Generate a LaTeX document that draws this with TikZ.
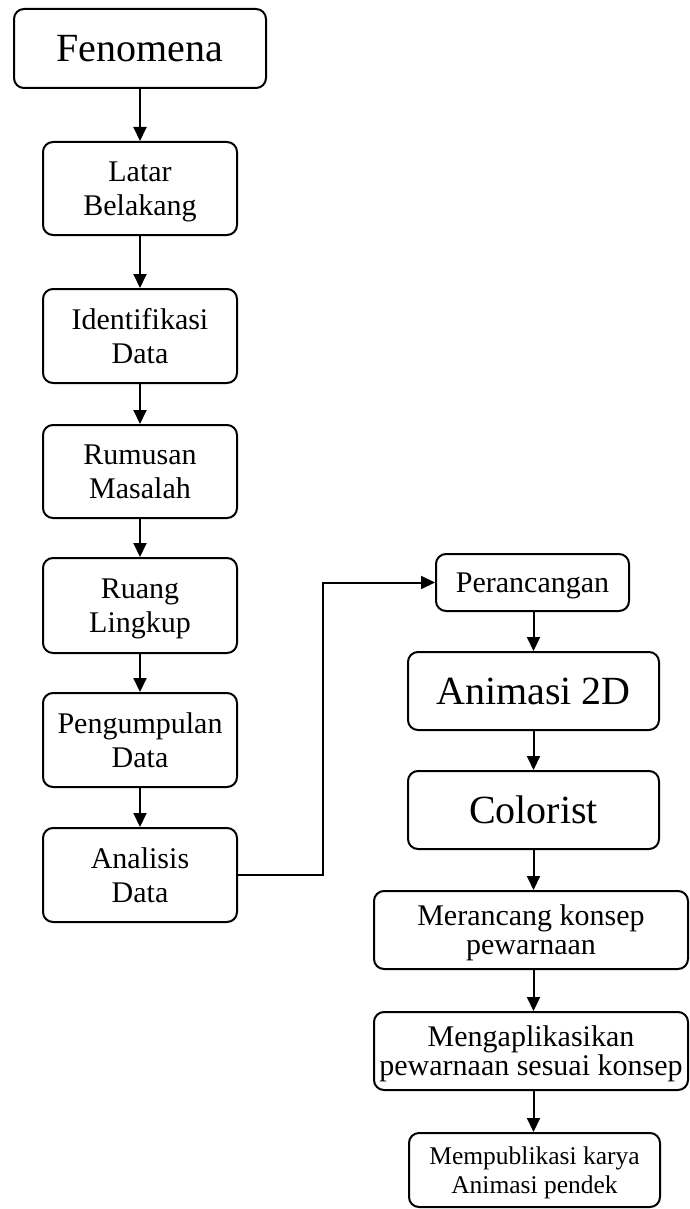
\documentclass[tikz,border=0pt]{standalone}
\usepackage{fontspec}
\setmainfont{Liberation Serif}
\usetikzlibrary{arrows.meta}
\tikzset{
  box/.style={draw, line width=2pt, rounded corners=10pt, inner sep=0pt, align=center, anchor=center, text depth=0pt},
  arr/.style={line width=2pt, -{Triangle[width=13pt,length=14pt]}},
  fbig/.style={font=\fontsize{40}{46}\selectfont},
  fmid/.style={font=\fontsize{30}{34.5}\selectfont},
  ftight/.style={font=\fontsize{30}{29}\selectfont},
  fsmall/.style={font=\fontsize{25.5}{29}\selectfont}
}
\begin{document}
\begin{tikzpicture}[x=1pt,y=-1pt]
\useasboundingbox (0,0) rectangle (689,1209);
% left column
\node[box,fbig,minimum width=252pt,minimum height=79pt] (fen) at (140,48.5) {Fenomena};
\node[box,fmid,minimum width=194pt,minimum height=93pt] (lat) at (140,188.5) {Latar\\Belakang};
\node[box,fmid,minimum width=194pt,minimum height=94pt] (ide) at (140,336) {Identifikasi\\Data};
\node[box,fmid,minimum width=194pt,minimum height=93pt] (rum) at (140,471.5) {Rumusan\\Masalah};
\node[box,fmid,minimum width=194pt,minimum height=95pt] (rua) at (140,605.5) {Ruang\\Lingkup};
\node[box,fmid,minimum width=194pt,minimum height=94pt] (pen) at (140,740) {Pengumpulan\\Data};
\node[box,fmid,minimum width=194pt,minimum height=94pt] (ana) at (140,875) {Analisis\\Data};
% right column
\node[box,fmid,minimum width=193pt,minimum height=57pt] (per) at (532.5,582.5) {Perancangan};
\node[box,fbig,minimum width=251pt,minimum height=78pt] (ani) at (533.5,691) {Animasi 2D};
\node[box,fbig,minimum width=251pt,minimum height=78pt] (col) at (533.5,810) {Colorist};
\node[box,ftight,minimum width=314pt,minimum height=78pt] (mer) at (531,930) {Merancang konsep\\pewarnaan};
\node[box,ftight,minimum width=314pt,minimum height=78pt] (men) at (531,1051) {Mengaplikasikan\\pewarnaan sesuai konsep};
\node[box,fsmall,minimum width=251pt,minimum height=74pt] (mem) at (534.5,1170) {Mempublikasi karya\\Animasi pendek};
% connectors
\draw[arr] (fen) -- (lat);
\draw[arr] (lat) -- (ide);
\draw[arr] (ide) -- (rum);
\draw[arr] (rum) -- (rua);
\draw[arr] (rua) -- (pen);
\draw[arr] (pen) -- (ana);
\draw[arr] (ana.east) -- ++(85,0) |- (per.west);
\draw[arr] (per.south -| ani) -- (ani.north);
\draw[arr] (ani) -- (col);
\draw[arr] (col.south) -- (col.south |- mer.north);
\draw[arr] (col.south |- mer.south) -- (col.south |- men.north);
\draw[arr] (col.south |- men.south) -- (col.south |- mem.north);
\end{tikzpicture}
\end{document}
